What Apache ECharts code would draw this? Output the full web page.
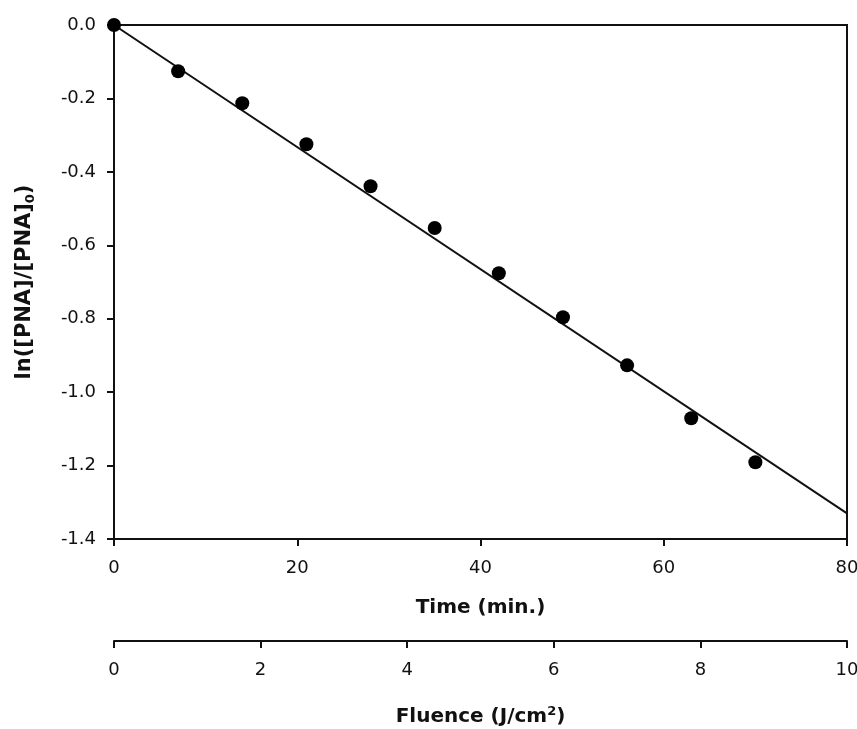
<!DOCTYPE html>
<html>
<head>
<meta charset="utf-8">
<script type="text/javascript" src="https://cdn.jsdelivr.net/npm/echarts@6/dist/echarts.min.js"></script>
<style type="text/css">
body{margin:0;padding:0;background:#fff;}
#chart{width:857px;height:729px;}
</style>
</head>
<body>
<div id="chart"></div>
<script type="text/javascript">
// 数据
var time_min = [0, 7, 14, 21, 28, 35, 42, 49, 56, 63, 70];
var ln_ratio = [0, -0.126, -0.213, -0.325, -0.439, -0.553, -0.676, -0.796, -0.927, -1.071, -1.191];
var fit_x = [0, 80];
var fit_y = [0, -1.33];
var time_ticks = [0, 20, 40, 60, 80];
var fluence_ticks = [0, 2, 4, 6, 8, 10];
var y_ticks = [0, -0.2, -0.4, -0.6, -0.8, -1.0, -1.2, -1.4];

var points = [];
for (var i = 0; i < time_min.length; i++) points.push([time_min[i], ln_ratio[i]]);
var fit = [];
for (var j = 0; j < fit_x.length; j++) fit.push([fit_x[j], fit_y[j]]);

var font = 'DejaVu Sans, sans-serif';
var ink = '#111';

var chart = echarts.init(document.getElementById('chart'));
var option = {
    backgroundColor: '#fff',
    animation: false,
    grid: {
        left: 114, top: 25, right: 10, bottom: 190,
        outerBoundsMode: 'none', containLabel: false,
        show: true, borderColor: ink, borderWidth: 2, backgroundColor: 'transparent'
    },
    xAxis: [
        {
            type: 'value', min: 0, max: 80, interval: 20, position: 'bottom',
            name: 'Time (min.)', nameLocation: 'middle', nameGap: 59,
            nameTextStyle: {fontFamily: font, fontSize: 20, fontWeight: 'bold', color: ink},
            axisLine: {show: true, onZero: false, lineStyle: {color: ink, width: 2}},
            axisTick: {show: true, length: 7, lineStyle: {color: ink, width: 2}},
            axisLabel: {margin: 20, fontFamily: font, fontSize: 18, color: ink,
                formatter: function (v) { return time_ticks.indexOf(v) >= 0 ? String(v) : ''; }},
            splitLine: {show: false}
        },
        {
            type: 'value', min: 0, max: 10, interval: 2, position: 'bottom', offset: 102,
            name: '{a|Fluence (J/cm}{p|2}{a|)}', nameLocation: 'middle', nameGap: 64,
            nameTextStyle: {
                rich: {
                    a: {fontFamily: font, fontSize: 20, fontWeight: 'bold', color: ink, lineHeight: 24},
                    p: {fontFamily: font, fontSize: 13, fontWeight: 'bold', color: ink, lineHeight: 12, verticalAlign: 'top'}
                }
            },
            axisLine: {show: true, onZero: false, lineStyle: {color: ink, width: 2}},
            axisTick: {show: true, length: 7, lineStyle: {color: ink, width: 2}},
            axisLabel: {margin: 20, fontFamily: font, fontSize: 18, color: ink,
                formatter: function (v) { return fluence_ticks.indexOf(v) >= 0 ? String(v) : ''; }},
            splitLine: {show: false}
        }
    ],
    yAxis: {
        type: 'value', min: -1.4, max: 0, interval: 0.2,
        name: '{a|ln([PNA]/[PNA]}{s|0}{a|)}', nameLocation: 'middle', nameGap: 77,
        nameTextStyle: {
            rich: {
                a: {fontFamily: font, fontSize: 21, fontWeight: 'bold', color: ink, lineHeight: 25},
                s: {fontFamily: font, fontSize: 13, fontWeight: 'bold', color: ink, lineHeight: 12, verticalAlign: 'bottom'}
            }
        },
        axisLine: {show: true, onZero: false, lineStyle: {color: ink, width: 2}},
        axisTick: {show: true, length: 7, lineStyle: {color: ink, width: 2}},
        axisLabel: {margin: 18, fontFamily: font, fontSize: 18, color: ink,
            formatter: function (v) {
                var k = Math.round(v * 10) / 10;
                return y_ticks.indexOf(k) >= 0 ? k.toFixed(1) : '';
            }},
        splitLine: {show: false}
    },
    series: [
        {
            name: 'fit', type: 'line', xAxisIndex: 0, data: fit,
            showSymbol: false, lineStyle: {color: ink, width: 2}, z: 2
        },
        {
            name: 'data', type: 'scatter', xAxisIndex: 0, data: points,
            symbol: 'circle', symbolSize: 14, itemStyle: {color: '#000', opacity: 1}, z: 3
        }
    ]
};
chart.setOption(option);
</script>
</body>
</html>
